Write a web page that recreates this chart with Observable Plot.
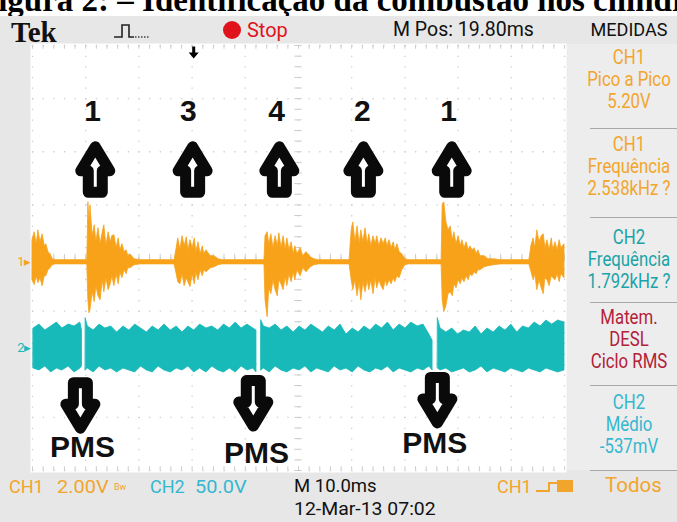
<!DOCTYPE html>
<html><head><meta charset="utf-8">
<script src="https://cdn.jsdelivr.net/npm/d3@7"></script>
<script src="https://cdn.jsdelivr.net/npm/@observablehq/plot@0.6"></script>
<style>
html,body{margin:0;padding:0;background:#fff;}
#wrap{position:relative;width:677px;height:522px;overflow:hidden;background:#fff;}
#cap{position:absolute;left:0;top:0;width:677px;height:16px;overflow:hidden;background:#fff;}
#cap span{position:absolute;top:-16px;left:-22px;font:bold 33px/33px "Liberation Serif","Times New Roman",serif;white-space:pre;color:#000;}
#scope{position:absolute;left:0;top:16px;width:677px;height:506px;background:#e7e7e7;}
#panel{position:absolute;left:566px;top:28px;width:111px;height:426px;background:#ededed;}
#chart{position:absolute;left:0;top:0;}
#ov{position:absolute;left:0;top:0;width:677px;height:522px;pointer-events:none;}
.t{position:absolute;white-space:pre;line-height:1;}
.sep{position:absolute;height:0;border-top:1.5px solid #a8a8a8;}
</style></head><body>
<div id="wrap">
  <div id="cap"><span>Figura 2: – Identificação da combustão nos cilindros</span></div>
  <div id="scope"><div id="panel"></div><div id="chart"></div></div>
  <div id="ov"></div>
</div>
<script>
// ---------------- DATA ----------------
// CH1 (orange, 2 V/div): envelope of the trace, time in ms, volts
const ch1Time = [0.0,0.4,0.8,1.1,1.5,1.9,2.3,2.6,3.0,3.4,3.8,4.3,7.1,10.3,
 10.5,10.7,10.9,11.3,11.7,12.0,12.4,12.8,13.2,13.5,13.9,14.3,14.7,15.0,15.4,15.8,16.2,16.5,16.9,17.3,17.7,18.0,18.4,19.2,20.3,26.7,
 27.1,27.4,27.8,28.2,28.6,29.0,29.3,29.7,30.1,30.5,30.8,31.2,31.6,32.0,32.3,32.7,33.5,34.2,35.0,35.7,43.6,
 43.8,44.2,44.5,44.9,45.3,45.7,46.1,46.4,46.8,47.2,47.6,47.9,48.3,48.7,49.1,49.4,49.8,50.4,50.9,51.5,52.3,53.0,53.8,59.6,
 60.0,60.3,60.7,61.1,61.5,61.8,62.2,62.6,63.0,63.3,63.7,64.1,64.5,64.8,65.2,65.6,66.0,66.4,66.7,67.1,67.5,67.9,68.2,68.6,69.0,69.5,70.1,70.7,76.9,
 77.1,77.4,77.8,78.2,78.6,79.0,79.3,79.7,80.1,80.5,80.8,81.2,81.6,82.0,82.3,82.7,83.1,83.5,83.8,84.2,85.0,85.7,86.8,88.0,93.4,
 93.8,94.2,94.5,94.9,95.3,95.7,96.1,96.4,96.8,97.2,97.6,97.9,98.3,98.7,99.1,99.4,100.0];
const ch1High = [0.83,1.13,0.68,1.20,0.75,1.05,0.60,0.68,0.38,0.30,0.11,0.08,0.08,0.08,
 2.26,1.50,2.14,0.98,1.39,0.75,1.28,0.68,1.13,1.39,0.60,1.13,0.75,0.98,1.02,0.53,0.90,0.45,0.68,0.38,0.45,0.23,0.30,0.11,0.08,0.08,
 0.53,0.90,0.45,0.98,0.60,0.94,0.45,0.83,0.53,0.90,0.38,0.75,0.30,0.60,0.30,0.45,0.23,0.23,0.11,0.08,0.08,
 0.98,1.13,0.68,1.05,0.53,0.98,0.60,1.09,0.53,0.98,0.45,0.90,0.45,0.75,0.30,0.60,0.30,0.53,0.23,0.38,0.19,0.11,0.08,0.08,
 1.20,1.50,0.75,1.35,0.68,1.20,0.75,1.28,0.68,1.05,0.60,0.98,0.68,0.98,0.60,0.90,0.68,0.90,0.60,0.83,0.53,0.75,0.45,0.68,0.38,0.30,0.11,0.08,0.08,
 2.18,2.26,1.50,1.20,1.35,0.83,1.13,0.68,0.98,0.60,0.83,0.53,0.75,0.45,0.60,0.45,0.53,0.30,0.45,0.23,0.23,0.11,0.11,0.08,0.08,
 0.64,0.90,0.53,1.20,0.75,0.98,1.05,0.53,0.83,0.45,0.90,0.45,0.75,0.45,0.83,0.53,0.68];
const ch1Low = [-0.68,-0.86,-0.53,-0.79,-0.60,-0.90,-0.53,-0.53,-0.30,-0.23,-0.11,-0.08,-0.08,-0.08,
 -1.43,-1.92,-1.80,-1.13,-1.50,-0.90,-1.28,-1.43,-0.68,-1.13,-0.60,-1.05,-0.83,-0.53,-0.90,-0.45,-0.83,-0.38,-0.60,-0.30,-0.45,-0.23,-0.23,-0.11,-0.08,-0.08,
 -0.45,-0.75,-0.83,-0.45,-0.90,-0.60,-0.75,-0.94,-0.45,-0.83,-0.38,-0.68,-0.30,-0.53,-0.30,-0.38,-0.23,-0.19,-0.11,-0.08,-0.08,
 -1.43,-2.07,-0.98,-1.20,-0.68,-1.05,-1.28,-0.68,-0.83,-1.05,-0.53,-0.90,-0.45,-0.75,-0.38,-0.68,-0.30,-0.53,-0.23,-0.38,-0.19,-0.11,-0.08,-0.08,
 -0.68,-1.05,-0.68,-1.28,-0.75,-1.43,-0.75,-1.13,-0.68,-1.05,-0.68,-1.20,-0.60,-0.98,-0.68,-0.90,-1.05,-0.68,-0.90,-0.68,-0.83,-0.60,-0.75,-0.53,-0.60,-0.30,-0.11,-0.08,-0.08,
 -1.43,-1.88,-1.65,-1.20,-1.13,-1.28,-0.83,-0.98,-0.68,-0.83,-0.60,-0.75,-0.53,-0.68,-0.45,-0.53,-0.38,-0.45,-0.30,-0.30,-0.19,-0.15,-0.11,-0.08,-0.08,
 -0.38,-0.68,-0.45,-1.05,-0.68,-0.98,-1.20,-0.60,-0.68,-0.90,-0.53,-0.60,-0.68,-0.45,-0.75,-0.45,-0.60];

// CH2 (teal, 50 V/div): envelope, null = dropout gap
const ch2Time = [0.2,1.3,2.4,3.5,4.6,5.6,6.8,7.9,9.0,9.3,9.5,
 10.0,10.4,11.5,12.6,13.7,14.8,15.9,17.1,18.2,19.3,20.4,21.5,22.6,23.7,24.8,26.0,27.1,28.2,29.3,30.4,31.5,32.7,33.8,34.9,36.0,37.1,38.2,39.3,40.4,41.5,42.1,42.3,
 43.0,43.5,44.6,45.7,46.8,47.9,49.1,50.2,51.3,52.4,53.5,54.6,55.7,56.8,57.9,59.0,60.2,61.3,62.4,63.5,64.6,65.7,66.8,67.9,69.0,70.1,71.2,72.4,73.5,74.6,75.2,75.5,
 76.2,76.7,77.8,78.9,80.0,81.1,82.2,83.3,84.4,85.5,86.7,87.8,88.9,90.0,91.1,92.2,93.3,94.4,95.5,96.6,97.7,98.8,100.0];
const ch2High = [17.9,21.6,16.0,19.8,23.5,17.9,21.6,19.8,23.5,16.0,null,
 27.3,19.8,16.0,21.6,17.9,19.8,14.1,19.8,16.0,21.6,17.9,14.1,19.8,16.0,21.6,16.0,19.8,14.1,19.8,16.0,21.6,17.9,19.8,16.0,21.6,17.9,23.5,17.9,21.6,17.9,16.0,null,
 25.4,19.8,17.9,21.6,16.0,19.8,14.1,19.8,16.0,21.6,17.9,14.1,19.8,16.0,21.6,12.2,17.9,14.1,19.8,16.0,21.6,17.9,23.5,16.0,21.6,17.9,23.5,19.8,21.6,12.2,6.6,null,
 27.3,17.9,14.1,17.9,12.2,16.0,14.1,19.8,12.2,17.9,14.1,19.8,16.0,21.6,14.1,19.8,17.9,23.5,19.8,25.4,21.6,25.4,23.5];
const ch2Low = [-19.8,-21.6,-17.9,-23.5,-19.8,-21.6,-17.9,-23.5,-19.8,-17.9,null,
 -21.6,-19.8,-23.5,-17.9,-21.6,-19.8,-23.5,-19.8,-21.6,-23.5,-17.9,-21.6,-23.5,-17.9,-21.6,-23.5,-19.8,-21.6,-17.9,-23.5,-19.8,-23.5,-17.9,-21.6,-23.5,-19.8,-23.5,-17.9,-21.6,-19.8,-23.5,null,
 -21.6,-19.8,-23.5,-17.9,-21.6,-23.5,-19.8,-21.6,-17.9,-23.5,-19.8,-21.6,-23.5,-17.9,-21.6,-19.8,-23.5,-17.9,-21.6,-23.5,-19.8,-21.6,-17.9,-23.5,-19.8,-21.6,-23.5,-19.8,-21.6,-17.9,-21.6,null,
 -19.8,-21.6,-19.8,-23.5,-21.6,-19.8,-23.5,-21.6,-17.9,-23.5,-19.8,-21.6,-23.5,-19.8,-21.6,-23.5,-19.8,-21.6,-23.5,-19.8,-21.6,-23.5,-21.6];

// Annotations (time in ms, vertical position in screen divisions)
const cylinderLabels = ["1","3","4","2","1"];
const cylinderLabelTimes = [11.3, 29.3, 45.9, 62.0, 78.2];
const upArrowTimes = [11.8, 30.1, 46.4, 62.2, 78.8];
const pmsLabels = ["PMS","PMS","PMS"];
const pmsTimes = [9.4, 42.1, 75.6];
const pmsDiv = [-3.57, -3.67, -3.49];
const downArrowTimes = [9.0, 41.5, 76.1];
const downArrowDiv = [-2.78, -2.74, -2.68];
const triggerTime = [30.3];

// Readouts
const panelGroups = [
  ["CH1","Pico a Pico","5.20V"],
  ["CH1","Frequência","2.538kHz ?"],
  ["CH2","Frequência","1.792kHz ?"],
  ["Matem.","DESL","Ciclo RMS"],
  ["CH2","Médio","-537mV"]
];
const header = {tek:"Tek", state:"Stop", pos:"M Pos: 19.80ms", menu:"MEDIDAS"};
const footer = {ch1:"CH1", ch1Scale:"2.00V", ch2:"CH2", ch2Scale:"50.0V", time:"M 10.0ms", date:"12-Mar-13 07:02", trig:"CH1", mode:"Todos"};

// ---------------- SETTINGS ----------------
const orange = "#f8a21a", teal = "#17b9b9";
const ch1VperDiv = 2, ch2VperDiv = 50;
const ch1Pos = -0.08, ch2Pos = -1.685;

const ch1 = ch1Time.map((t,i)=>({t, hi: ch1High[i], lo: ch1Low[i]}));
const ch2 = ch2Time.map((t,i)=>({t, hi: ch2High[i], lo: ch2Low[i]}));
const d1 = v => v/ch1VperDiv + ch1Pos;
const d2 = v => v == null ? NaN : v/ch2VperDiv + ch2Pos;

function arrowSymbol(dir){
  return {draw(ctx, size){
    const s = Math.sqrt(size/Math.PI)/10;
    const P = [[0,-22.5],[14.5,1.5],[7,1.5],[7,23],[-7,23],[-7,1.5],[-14.5,1.5]];
    P.forEach(([x,y],i)=>{ const X=x*s, Y=dir*y*s; i? ctx.lineTo(X,Y): ctx.moveTo(X,Y); });
    ctx.closePath();
  }};
}
const trigSymbol = {draw(ctx, size){
  const s = Math.sqrt(size/Math.PI)/10;
  const P = [[-1.5,-6],[1.5,-6],[1.5,0],[5,0],[0,6],[-5,0],[-1.5,0]];
  P.forEach(([x,y],i)=>{ i? ctx.lineTo(x*s,y*s): ctx.moveTo(x*s,y*s); });
  ctx.closePath();
}};

const gridC = "#cdcdcd";
const plot = Plot.plot({
  width: 677, height: 506,
  marginLeft: 32, marginRight: 113, marginTop: 29, marginBottom: 52,
  x: {domain: [0, 100], axis: null},
  y: {domain: [-4, 4], axis: null},
  style: {background: "transparent", overflow: "visible"},
  marks: [
    Plot.frame({fill: "white", stroke: null, inset: -2}),
    Plot.gridX(d3.range(0, 101, 10), {stroke: gridC, strokeOpacity: 1, strokeWidth: 1.3, strokeDasharray: "1.3,9.33"}),
    Plot.gridY(d3.range(-4, 4.01, 1), {stroke: gridC, strokeOpacity: 1, strokeWidth: 1.3, strokeDasharray: "1.3,9.34"}),
    Plot.ruleY(d3.range(-4, 4.01, 0.2), {x1: 49.3, x2: 50.7, stroke: gridC}),
    Plot.ruleX(d3.range(0, 100.1, 2), {y1: -0.07, y2: 0.07, stroke: gridC}),
    Plot.ruleX(d3.range(0, 100.1, 2), {y1: 3.93, y2: 4, stroke: gridC}),
    Plot.ruleX(d3.range(0, 100.1, 2), {y1: -4, y2: -3.93, stroke: gridC}),
    // CH1 trace
    Plot.areaY(ch1, {x: "t", y1: d => d1(d.lo), y2: d => d1(d.hi), fill: orange, stroke: orange, strokeWidth: 0.8, curve: "linear"}),
    // CH2 trace
    Plot.areaY(ch2, {x: "t", y1: d => d2(d.lo), y2: d => d2(d.hi), fill: teal, stroke: teal, strokeWidth: 0.8, curve: "linear"}),
    // channel markers
    Plot.text([{y: ch1Pos, t: "1▸", c: orange}, {y: ch2Pos, t: "2▸", c: teal}],
      {x: 0, y: "y", text: "t", fill: "c", textAnchor: "end", dx: -1, fontSize: 13, fontFamily: "Roboto, sans-serif"}),
    // trigger position marker
    Plot.dot(triggerTime, {x: d => d, y: 3.87, symbol: trigSymbol, r: 10, fill: "black", stroke: null}),
    // cylinder labels and arrows
    Plot.text(cylinderLabels, {x: (d,i) => cylinderLabelTimes[i], y: 2.76, text: d => d,
      fontSize: 30, fontWeight: "bold", fontFamily: "Liberation Sans, Arial, sans-serif", fill: "#111"}),
    Plot.dot(upArrowTimes, {x: d => d, y: 1.67, symbol: arrowSymbol(1), r: 10,
      fill: "white", stroke: "#0a0a0a", strokeWidth: 11, strokeLinejoin: "round"}),
    Plot.dot(downArrowTimes, {x: d => d, y: (d,i) => downArrowDiv[i], symbol: arrowSymbol(-1), r: 10,
      fill: "white", stroke: "#0a0a0a", strokeWidth: 11, strokeLinejoin: "round"}),
    Plot.text(pmsLabels, {x: (d,i) => pmsTimes[i], y: (d,i) => pmsDiv[i], text: d => d,
      fontSize: 30, fontWeight: "bold", fontFamily: "Liberation Sans, Arial, sans-serif", fill: "#111"})
  ]
});
document.getElementById("chart").appendChild(plot);

// ---------------- SCREEN TEXT ----------------
const ov = document.getElementById("ov");
function lab(txt, x, yc, size, color, o = {}){
  const el = document.createElement("div");
  el.className = "t";
  el.textContent = txt;
  const mid = o.anchor === "middle";
  const sx = o.sx ?? 1;
  el.style.left = x + "px";
  el.style.top = (yc - size*0.49) + "px";
  el.style.fontSize = size + "px";
  el.style.color = color;
  el.style.fontFamily = o.font || "Roboto, sans-serif";
  el.style.fontWeight = o.weight || "normal";
  el.style.transformOrigin = (mid ? "center" : "left") + " center";
  el.style.transform = `translateX(${mid ? "-50%" : "0"}) scaleX(${sx})`;
  ov.appendChild(el);
}
function sep(x, y, w){ const s = document.createElement("div"); s.className = "sep";
  s.style.left = x+"px"; s.style.top = y+"px"; s.style.width = w+"px"; ov.appendChild(s); }

// header
lab(header.tek, 11, 32, 29, "#111", {font: "Liberation Serif, serif", weight: "bold"});
const pulse = document.createElementNS("http://www.w3.org/2000/svg","svg");
pulse.setAttribute("width","40"); pulse.setAttribute("height","18");
pulse.style.cssText = "position:absolute;left:112px;top:22px;";
pulse.innerHTML = '<path d="M2 15 H10 V3 H17 V15 H22" fill="none" stroke="#222" stroke-width="1.6"/><path d="M23 15 H38" fill="none" stroke="#444" stroke-width="1.4" stroke-dasharray="1.5,1.5"/>';
ov.appendChild(pulse);
const dot = document.createElement("div");
dot.style.cssText = "position:absolute;left:223px;top:21px;width:18px;height:18px;border-radius:50%;background:#e0121c;";
ov.appendChild(dot);
lab(header.state, 247, 30, 21, "#e0121c", {sx: 0.95});
lab(header.pos, 393, 30, 19.5, "#111", {sx: 1});
lab(header.menu, 629, 29, 19, "#111", {anchor: "middle", sx: 0.95});

// measurement panel
const panelColors = ["#f2a52c", "#f2a52c", "#1aa3a8", "#b3213a", "#35b7cf"];
const groupTop = [58, 145, 238, 318, 403];
const lineStep = 22;
const sepY = [128, 217, 302, 385, 470];
panelGroups.forEach((g, gi) => g.forEach((line, li) =>
  lab(line, 629, groupTop[gi] + li*lineStep, 19.5, panelColors[gi], {anchor: "middle", sx: 0.86})));
sepY.forEach(y => sep(590, y, 87));

// footer
const ch1C = "#f2a52c", ch2C = "#35b7cf";
lab(footer.ch1, 9, 486, 19, ch1C, {sx: 0.95});
lab(footer.ch1Scale, 57, 486, 19, ch1C, {sx: 1.05});
lab("Bw", 114, 487, 9, ch1C);
lab(footer.ch2, 150, 486, 19, ch2C, {sx: 0.95});
lab(footer.ch2Scale, 195, 486, 19, ch2C, {sx: 1.05});
lab(footer.time, 294, 486, 18.5, "#111");
lab(footer.date, 294, 509, 18.5, "#111", {sx: 1.05});
lab(footer.trig, 497, 486, 19, ch1C, {sx: 0.95});
const trig = document.createElementNS("http://www.w3.org/2000/svg","svg");
trig.setAttribute("width","50"); trig.setAttribute("height","16");
trig.style.cssText = "position:absolute;left:535px;top:478px;";
trig.innerHTML = '<path d="M1 13 H14 V5 H22" fill="none" stroke="#f2a52c" stroke-width="2"/><rect x="22" y="2" width="16" height="12" fill="#f2a52c"/>';
ov.appendChild(trig);
lab(footer.mode, 605, 486, 19.5, ch1C, {sx: 1.05});
</script>
</body></html>
